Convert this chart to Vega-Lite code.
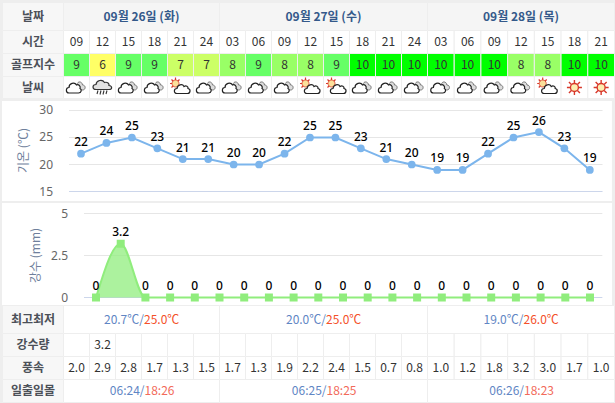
{
"$schema":"https://vega.github.io/schema/vega-lite/v6.json",
"padding":0,"bounds":"flush","spacing":0,"background":"#eeeeee",
"config":{"view":{"stroke":null},"font":"Noto Sans CJK KR","text":{"font":"Noto Sans CJK KR","baseline":"middle"}},
"datasets":{
"cols":[
{"c0":0,"c1":1,"m":0.5,"hour":"09","golf":"9","wx":"cloud","wind":"2.0","rain":""},
{"c0":1,"c1":2,"m":1.5,"hour":"12","golf":"6","wx":"rain","wind":"2.9","rain":"3.2"},
{"c0":2,"c1":3,"m":2.5,"hour":"15","golf":"9","wx":"cloud","wind":"2.8","rain":""},
{"c0":3,"c1":4,"m":3.5,"hour":"18","golf":"9","wx":"cloud","wind":"1.7","rain":""},
{"c0":4,"c1":5,"m":4.5,"hour":"21","golf":"7","wx":"suncloud","wind":"1.3","rain":""},
{"c0":5,"c1":6,"m":5.5,"hour":"24","golf":"7","wx":"cloud","wind":"1.5","rain":""},
{"c0":6,"c1":7,"m":6.5,"hour":"03","golf":"8","wx":"cloud","wind":"1.7","rain":""},
{"c0":7,"c1":8,"m":7.5,"hour":"06","golf":"9","wx":"cloud","wind":"1.3","rain":""},
{"c0":8,"c1":9,"m":8.5,"hour":"09","golf":"8","wx":"cloud","wind":"1.9","rain":""},
{"c0":9,"c1":10,"m":9.5,"hour":"12","golf":"8","wx":"suncloud","wind":"2.2","rain":""},
{"c0":10,"c1":11,"m":10.5,"hour":"15","golf":"9","wx":"suncloud","wind":"2.4","rain":""},
{"c0":11,"c1":12,"m":11.5,"hour":"18","golf":"10","wx":"cloud","wind":"1.5","rain":""},
{"c0":12,"c1":13,"m":12.5,"hour":"21","golf":"10","wx":"cloud","wind":"0.7","rain":""},
{"c0":13,"c1":14,"m":13.5,"hour":"24","golf":"10","wx":"cloud","wind":"0.8","rain":""},
{"c0":14,"c1":15,"m":14.5,"hour":"03","golf":"10","wx":"cloud","wind":"1.0","rain":""},
{"c0":15,"c1":16,"m":15.5,"hour":"06","golf":"10","wx":"cloud","wind":"1.2","rain":""},
{"c0":16,"c1":17,"m":16.5,"hour":"09","golf":"10","wx":"cloud","wind":"1.8","rain":""},
{"c0":17,"c1":18,"m":17.5,"hour":"12","golf":"8","wx":"cloud","wind":"3.2","rain":""},
{"c0":18,"c1":19,"m":18.5,"hour":"15","golf":"8","wx":"suncloud","wind":"3.0","rain":""},
{"c0":19,"c1":20,"m":19.5,"hour":"18","golf":"10","wx":"sun","wind":"1.7","rain":""},
{"c0":20,"c1":21,"m":20.5,"hour":"21","golf":"10","wx":"sun","wind":"1.0","rain":""}
],
"days":[
{"c0":0,"c1":6,"m":3,"day":"09월 26일 (화)","tmin":"20.7℃/","tmax":"25.0℃","rise":"06:24/","set":"18:26"},
{"c0":6,"c1":14,"m":10,"day":"09월 27일 (수)","tmin":"20.0℃/","tmax":"25.0℃","rise":"06:25/","set":"18:25"},
{"c0":14,"c1":21,"m":17.5,"day":"09월 28일 (목)","tmin":"19.0℃/","tmax":"26.0℃","rise":"06:26/","set":"18:23"}
],
"topLabels":[
{"label":"날짜","r0":0,"r1":1,"rm":0.5},
{"label":"시간","r0":1,"r1":2,"rm":1.5},
{"label":"골프지수","r0":2,"r1":3,"rm":2.5},
{"label":"날씨","r0":3,"r1":4,"rm":3.5}
],
"botLabels":[
{"label":"최고최저","r0":0,"r1":1,"rm":0.5},
{"label":"강수량","r0":1,"r1":2,"rm":1.5},
{"label":"풍속","r0":2,"r1":3,"rm":2.5},
{"label":"일출일몰","r0":3,"r1":4,"rm":3.5}
],
"series":[
{"i":0,"temp":22,"precip":0},{"i":1,"temp":24,"precip":3.2},{"i":2,"temp":25,"precip":0},{"i":3,"temp":23,"precip":0},
{"i":4,"temp":21,"precip":0},{"i":5,"temp":21,"precip":0},{"i":6,"temp":20,"precip":0},{"i":7,"temp":20,"precip":0},
{"i":8,"temp":22,"precip":0},{"i":9,"temp":25,"precip":0},{"i":10,"temp":25,"precip":0},{"i":11,"temp":23,"precip":0},
{"i":12,"temp":21,"precip":0},{"i":13,"temp":20,"precip":0},{"i":14,"temp":19,"precip":0},{"i":15,"temp":19,"precip":0},
{"i":16,"temp":22,"precip":0},{"i":17,"temp":25,"precip":0},{"i":18,"temp":26,"precip":0},{"i":19,"temp":23,"precip":0},{"i":20,"temp":19,"precip":0}
],
"tempGrid":[{"v":15,"kind":"base"},{"v":20,"kind":"grid"},{"v":25,"kind":"grid"},{"v":30,"kind":"grid"}],
"precipGrid":[{"v":0,"kind":"base"},{"v":2.5,"kind":"grid"},{"v":5,"kind":"grid"}]
},
"vconcat":[
{"width":615,"height":100,
"encoding":{},
"layer":[
{"data":{"values":[{"a":1}]},"mark":{"type":"rect","fill":"#c6daed"},"encoding":{
"x":{"datum":-1.05,"type":"quantitative","axis":null,"scale":{"domain":[-1.05,-1,0,14,21,21.02],"range":[0,2.5,63.5,427.5,614.5,615]}},
"x2":{"datum":21.02},
"y":{"datum":-0.1,"type":"quantitative","axis":null,"scale":{"domain":[-0.1,0,1,2,3,4,4.05],"range":[0,2.5,30.5,53.5,76.5,98.5,100]}},
"y2":{"datum":0}}},
{"data":{"name":"topLabels"},"mark":{"type":"rect","fill":"#f7f7f7","stroke":"#eeeeee"},"encoding":{
"x":{"datum":-1,"type":"quantitative","axis":null},"x2":{"datum":0},
"y":{"field":"r0","type":"quantitative","axis":null},"y2":{"field":"r1"}}},
{"data":{"name":"days"},"mark":{"type":"rect","fill":"#f5f5f5","stroke":"#eeeeee"},"encoding":{
"x":{"field":"c0","type":"quantitative","axis":null},"x2":{"field":"c1"},
"y":{"datum":0,"type":"quantitative","axis":null},"y2":{"datum":1}}},
{"data":{"name":"cols"},"mark":{"type":"rect","fill":"#ffffff","stroke":"#eeeeee"},"encoding":{
"x":{"field":"c0","type":"quantitative","axis":null},"x2":{"field":"c1"},
"y":{"datum":1,"type":"quantitative","axis":null},"y2":{"datum":2}}},
{"data":{"name":"cols"},"mark":{"type":"rect","stroke":"#eeeeee"},"encoding":{
"x":{"field":"c0","type":"quantitative","axis":null},"x2":{"field":"c1"},
"y":{"datum":2,"type":"quantitative","axis":null},"y2":{"datum":3},
"fill":{"field":"golf","type":"nominal","legend":null,"scale":{"domain":["6","7","8","9","10"],"range":["#ffff66","#ccff66","#99ff66","#66ff66","#00ff00"]}}}},
{"data":{"name":"cols"},"mark":{"type":"rect","fill":"#ffffff","stroke":"#eeeeee"},"encoding":{
"x":{"field":"c0","type":"quantitative","axis":null},"x2":{"field":"c1"},
"y":{"datum":3,"type":"quantitative","axis":null},"y2":{"datum":4}}},
{"data":{"name":"topLabels"},"mark":{"type":"text","fontSize":12,"fontWeight":"bold","fill":"#4c5058"},"encoding":{
"x":{"datum":-0.5,"type":"quantitative","axis":null},
"y":{"field":"rm","type":"quantitative","axis":null},"text":{"field":"label"}}},
{"data":{"name":"days"},"mark":{"type":"text","fontSize":12,"fontWeight":"bold","fill":"#34598a"},"encoding":{
"x":{"field":"m","type":"quantitative","axis":null},
"y":{"datum":0.5,"type":"quantitative","axis":null},"text":{"field":"day"}}},
{"data":{"name":"cols"},"mark":{"type":"text","fontSize":12,"fill":"#333333"},"encoding":{
"x":{"field":"m","type":"quantitative","axis":null},
"y":{"datum":1.5,"type":"quantitative","axis":null},"text":{"field":"hour"}}},
{"data":{"name":"cols"},"mark":{"type":"text","fontSize":12,"fill":"#333333"},"encoding":{
"x":{"field":"m","type":"quantitative","axis":null},
"y":{"datum":2.5,"type":"quantitative","axis":null},"text":{"field":"golf"}}},
{"data":{"name":"cols"},"transform":[{"filter":"datum.wx=='cloud'"}],"mark":{"type":"point","filled":false,"opacity":1,"size":400,"fill":"#dddddd","stroke":"#777777","strokeWidth":1,"shape":"M0.05,-0.3 C0.1,-0.65 0.55,-0.65 0.6,-0.25 C0.95,-0.25 0.95,0.25 0.6,0.25 L0.3,0.25 Z"},"encoding":{
"x":{"field":"m","type":"quantitative","axis":null},"y":{"datum":3.5,"type":"quantitative","axis":null}}},
{"data":{"name":"cols"},"transform":[{"filter":"datum.wx=='cloud'"}],"mark":{"type":"point","filled":false,"opacity":1,"size":400,"fill":"#ffffff","stroke":"#222222","strokeWidth":1.2,"shape":"M-0.75,0.55 C-1.1,0.55 -1.1,0 -0.75,0 C-0.75,-0.4 -0.2,-0.6 0,-0.25 C0.2,-0.35 0.45,-0.15 0.35,0.1 C0.55,0.2 0.5,0.55 0.2,0.55 Z"},"encoding":{
"x":{"field":"m","type":"quantitative","axis":null},"y":{"datum":3.5,"type":"quantitative","axis":null}}},
{"data":{"name":"cols"},"transform":[{"filter":"datum.wx=='rain'"}],"mark":{"type":"point","filled":false,"opacity":1,"size":400,"fill":"#e2e2e2","stroke":"#333333","strokeWidth":1.2,"shape":"M-0.65,0.2 C-1.05,0.2 -1.05,-0.3 -0.65,-0.3 C-0.6,-0.75 0,-0.85 0.2,-0.5 C0.5,-0.6 0.7,-0.35 0.65,-0.2 C1.0,-0.15 1.0,0.2 0.65,0.2 Z"},"encoding":{
"x":{"field":"m","type":"quantitative","axis":null},"y":{"datum":3.5,"type":"quantitative","axis":null}}},
{"data":{"name":"cols"},"transform":[{"filter":"datum.wx=='rain'"}],"mark":{"type":"point","filled":false,"opacity":1,"size":400,"stroke":"#333333","strokeWidth":1.1,"shape":"M-0.45,0.3 L-0.55,0.65 M-0.15,0.3 L-0.25,0.7 M0.15,0.3 L0.05,0.7 M0.45,0.3 L0.35,0.65"},"encoding":{
"x":{"field":"m","type":"quantitative","axis":null},"y":{"datum":3.5,"type":"quantitative","axis":null}}},
{"data":{"name":"cols"},"transform":[{"filter":"datum.wx=='suncloud'"}],"mark":{"type":"point","filled":false,"opacity":1,"size":400,"stroke":"#d8392b","strokeWidth":1.2,"shape":"M-0.5,-1 L-0.5,-0.7 M-1.05,-0.4 L-0.75,-0.4 M-0.9,-0.8 L-0.7,-0.6 M-0.1,-0.8 L-0.3,-0.6 M-0.9,0 L-0.7,-0.2"},"encoding":{
"x":{"field":"m","type":"quantitative","axis":null},"y":{"datum":3.5,"type":"quantitative","axis":null}}},
{"data":{"name":"cols"},"transform":[{"filter":"datum.wx=='suncloud'"}],"mark":{"type":"point","filled":false,"opacity":1,"size":400,"fill":"#fbe09a","stroke":"#d8392b","strokeWidth":0.8,"shape":"M-0.85,-0.4 A0.35,0.35 0 1 1 -0.15,-0.4 A0.35,0.35 0 1 1 -0.85,-0.4 Z"},"encoding":{
"x":{"field":"m","type":"quantitative","axis":null},"y":{"datum":3.5,"type":"quantitative","axis":null}}},
{"data":{"name":"cols"},"transform":[{"filter":"datum.wx=='suncloud'"}],"mark":{"type":"point","filled":false,"opacity":1,"size":400,"fill":"#ffffff","stroke":"#222222","strokeWidth":1.2,"shape":"M-0.35,0.6 C-0.7,0.6 -0.7,0.1 -0.35,0.1 C-0.3,-0.3 0.2,-0.4 0.35,-0.1 C0.55,-0.25 0.8,-0.1 0.75,0.1 C1.05,0.15 1.0,0.6 0.7,0.6 Z"},"encoding":{
"x":{"field":"m","type":"quantitative","axis":null},"y":{"datum":3.5,"type":"quantitative","axis":null}}},
{"data":{"name":"cols"},"transform":[{"filter":"datum.wx=='sun'"}],"mark":{"type":"point","filled":false,"opacity":1,"size":400,"stroke":"#d8392b","strokeWidth":1.4,"shape":"M0,-0.75 L0,-0.4 M0,0.75 L0,0.4 M-0.75,0 L-0.4,0 M0.75,0 L0.4,0 M-0.55,-0.55 L-0.3,-0.3 M0.55,-0.55 L0.3,-0.3 M-0.55,0.55 L-0.3,0.3 M0.55,0.55 L0.3,0.3"},"encoding":{
"x":{"field":"m","type":"quantitative","axis":null},"y":{"datum":3.5,"type":"quantitative","axis":null}}},
{"data":{"name":"cols"},"transform":[{"filter":"datum.wx=='sun'"}],"mark":{"type":"point","filled":false,"opacity":1,"size":400,"fill":"#fdeeb0","stroke":"#d8392b","strokeWidth":1.4,"shape":"M-0.4,0 A0.4,0.4 0 1 1 0.4,0 A0.4,0.4 0 1 1 -0.4,0 Z"},"encoding":{
"x":{"field":"m","type":"quantitative","axis":null},"y":{"datum":3.5,"type":"quantitative","axis":null}}}
]},
{"width":615,"height":102,
"data":{"name":"series"},
"layer":[
{"data":{"values":[{"a":1}]},"mark":{"type":"rect","fill":"#ffffff"},"encoding":{
"x":{"datum":-3.105,"type":"quantitative","axis":null,"scale":{"domain":[-3.184,20.99],"nice":false,"zero":false}},"x2":{"datum":20.87},
"y":{"datum":31.76,"type":"quantitative","title":"기온 (℃)","scale":{"domain":[13.056,31.944],"nice":false,"zero":false},
"axis":{"offset":-53,"zindex":1,"values":[15,20,25,30],"labels":false,"domain":false,"ticks":false,"grid":false,"titleFont":"Noto Sans CJK KR","titleFontSize":12,"titleFontWeight":"normal","titleColor":"#6f7f9c","titleX":-30,"titleY":50,"titleAngle":270,"titleAlign":"center","titleBaseline":"middle"}},
"y2":{"datum":13.24}}},
{"data":{"name":"tempGrid"},"transform":[{"filter":"datum.kind=='grid'"}],"mark":{"type":"rule","strokeWidth":1,"stroke":"#e6e6e6"},"encoding":{
"x":{"datum":-0.472,"type":"quantitative","axis":null},"x2":{"datum":20.5},
"y":{"field":"v","type":"quantitative","title":"기온 (℃)"}}},
{"data":{"name":"tempGrid"},"transform":[{"filter":"datum.kind=='base'"}],"mark":{"type":"rule","strokeWidth":1,"stroke":"#ccd6eb"},"encoding":{
"x":{"datum":-0.472,"type":"quantitative","axis":null},"x2":{"datum":20.5},
"y":{"field":"v","type":"quantitative","title":"기온 (℃)"}}},
{"data":{"name":"tempGrid"},"mark":{"type":"text","font":"Noto Sans","fontSize":12,"fill":"#666666","align":"right"},"encoding":{
"x":{"datum":-1.1006,"type":"quantitative","axis":null},
"y":{"field":"v","type":"quantitative","title":"기온 (℃)"},"text":{"field":"v"}}},
{"mark":{"type":"line","stroke":"#7cb5ec","strokeWidth":2},"encoding":{
"x":{"field":"i","type":"quantitative","axis":null},"y":{"field":"temp","type":"quantitative","title":"기온 (℃)"}}},
{"mark":{"type":"point","filled":true,"shape":"circle","size":60,"fill":"#7cb5ec","opacity":1},"encoding":{
"x":{"field":"i","type":"quantitative","axis":null},"y":{"field":"temp","type":"quantitative","title":"기온 (℃)"}}},
{"mark":{"type":"text","font":"Noto Sans","fontSize":12,"fontWeight":500,"fill":"#000000","dy":-11.5},"encoding":{
"x":{"field":"i","type":"quantitative","axis":null},"y":{"field":"temp","type":"quantitative","title":"기온 (℃)"},"text":{"field":"temp"}}}
]},
{"width":615,"height":103,
"data":{"name":"series"},
"layer":[
{"data":{"values":[{"a":1}]},"mark":{"type":"rect","fill":"#ffffff"},"encoding":{
"x":{"datum":-3.806,"type":"quantitative","axis":null,"scale":{"domain":[-3.887,21.012],"nice":false,"zero":false}},"x2":{"datum":20.89},
"y":{"datum":5.625,"type":"quantitative","title":"강수 (mm)","scale":{"domain":[-0.446,5.685],"nice":false,"zero":false},
"axis":{"offset":-68,"zindex":1,"values":[0,2.5,5],"labels":false,"domain":false,"ticks":false,"grid":false,"titleFont":"Noto Sans CJK KR","titleFontSize":12,"titleFontWeight":"normal","titleColor":"#6f7f9c","titleX":-33,"titleY":53,"titleAngle":270,"titleAlign":"center","titleBaseline":"middle"}},
"y2":{"datum":-0.446}}},
{"data":{"name":"precipGrid"},"transform":[{"filter":"datum.kind=='grid'"}],"mark":{"type":"rule","strokeWidth":1,"stroke":"#e6e6e6"},"encoding":{
"x":{"datum":-0.486,"type":"quantitative","axis":null},"x2":{"datum":20.5},
"y":{"field":"v","type":"quantitative","title":"강수 (mm)"}}},
{"data":{"name":"precipGrid"},"transform":[{"filter":"datum.kind=='base'"}],"mark":{"type":"rule","strokeWidth":1,"stroke":"#ccd6eb"},"encoding":{
"x":{"datum":-0.486,"type":"quantitative","axis":null},"x2":{"datum":20.5},
"y":{"field":"v","type":"quantitative","title":"강수 (mm)"}}},
{"data":{"name":"precipGrid"},"mark":{"type":"text","font":"Noto Sans","fontSize":12,"fill":"#666666","align":"right"},"encoding":{
"x":{"datum":-1.1336,"type":"quantitative","axis":null},
"y":{"field":"v","type":"quantitative","title":"강수 (mm)"},"text":{"field":"v"}}},
{"mark":{"type":"area","interpolate":"monotone","fill":"#90ed7d","fillOpacity":0.75},"encoding":{
"x":{"field":"i","type":"quantitative","axis":null},"y":{"field":"precip","type":"quantitative","stack":null,"title":"강수 (mm)"},"y2":{"datum":0}}},
{"mark":{"type":"line","interpolate":"monotone","stroke":"#90ed7d","strokeWidth":2},"encoding":{
"x":{"field":"i","type":"quantitative","axis":null},"y":{"field":"precip","type":"quantitative","title":"강수 (mm)"}}},
{"mark":{"type":"point","filled":true,"shape":"square","size":64,"fill":"#90ed7d","opacity":1},"encoding":{
"x":{"field":"i","type":"quantitative","axis":null},"y":{"field":"precip","type":"quantitative","title":"강수 (mm)"}}},
{"mark":{"type":"text","font":"Noto Sans","fontSize":12,"fontWeight":500,"fill":"#000000","dy":-12},"encoding":{
"x":{"field":"i","type":"quantitative","axis":null},"y":{"field":"precip","type":"quantitative","title":"강수 (mm)"},"text":{"field":"precip"}}}
]},
{"width":615,"height":98,
"layer":[
{"data":{"name":"botLabels"},"mark":{"type":"rect","fill":"#f7f7f7","stroke":"#eeeeee"},"encoding":{
"x":{"datum":-1,"type":"quantitative","axis":null,"scale":{"domain":[-1.05,-1,0,14,21,21.02],"range":[0,2.5,63.5,427.5,614.5,615]}},"x2":{"datum":0},
"y":{"field":"r0","type":"quantitative","axis":null,"scale":{"domain":[0,1,2,3,4,4.05],"range":[0.5,28.5,51.5,74.5,97.5,98]}},"y2":{"field":"r1"}}},
{"data":{"name":"days"},"mark":{"type":"rect","fill":"#ffffff","stroke":"#eeeeee"},"encoding":{
"x":{"field":"c0","type":"quantitative","axis":null},"x2":{"field":"c1"},
"y":{"datum":0,"type":"quantitative","axis":null},"y2":{"datum":1}}},
{"data":{"name":"cols"},"mark":{"type":"rect","fill":"#ffffff","stroke":"#eeeeee"},"encoding":{
"x":{"field":"c0","type":"quantitative","axis":null},"x2":{"field":"c1"},
"y":{"datum":1,"type":"quantitative","axis":null},"y2":{"datum":2}}},
{"data":{"name":"cols"},"mark":{"type":"rect","fill":"#ffffff","stroke":"#eeeeee"},"encoding":{
"x":{"field":"c0","type":"quantitative","axis":null},"x2":{"field":"c1"},
"y":{"datum":2,"type":"quantitative","axis":null},"y2":{"datum":3}}},
{"data":{"name":"days"},"mark":{"type":"rect","fill":"#ffffff","stroke":"#eeeeee"},"encoding":{
"x":{"field":"c0","type":"quantitative","axis":null},"x2":{"field":"c1"},
"y":{"datum":3,"type":"quantitative","axis":null},"y2":{"datum":4}}},
{"data":{"name":"botLabels"},"mark":{"type":"text","fontSize":12,"fontWeight":"bold","fill":"#4c5058"},"encoding":{
"x":{"datum":-0.5,"type":"quantitative","axis":null},
"y":{"field":"rm","type":"quantitative","axis":null},"text":{"field":"label"}}},
{"data":{"name":"days"},"mark":{"type":"text","fontSize":12,"fill":"#5f86c4","align":"right","dx":2.5},"encoding":{
"x":{"field":"m","type":"quantitative","axis":null},
"y":{"datum":0.5,"type":"quantitative","axis":null},"text":{"field":"tmin"}}},
{"data":{"name":"days"},"mark":{"type":"text","fontSize":12,"fill":"#f4502a","align":"left","dx":2.5},"encoding":{
"x":{"field":"m","type":"quantitative","axis":null},
"y":{"datum":0.5,"type":"quantitative","axis":null},"text":{"field":"tmax"}}},
{"data":{"name":"cols"},"mark":{"type":"text","fontSize":12,"fill":"#333333"},"encoding":{
"x":{"field":"m","type":"quantitative","axis":null},
"y":{"datum":1.5,"type":"quantitative","axis":null},"text":{"field":"rain"}}},
{"data":{"name":"cols"},"mark":{"type":"text","fontSize":12,"fill":"#333333"},"encoding":{
"x":{"field":"m","type":"quantitative","axis":null},
"y":{"datum":2.5,"type":"quantitative","axis":null},"text":{"field":"wind"}}},
{"data":{"name":"days"},"mark":{"type":"text","fontSize":12,"fill":"#5f86c4","align":"right","dx":3},"encoding":{
"x":{"field":"m","type":"quantitative","axis":null},
"y":{"datum":3.5,"type":"quantitative","axis":null},"text":{"field":"rise"}}},
{"data":{"name":"days"},"mark":{"type":"text","fontSize":12,"fill":"#f26a5a","align":"left","dx":3},"encoding":{
"x":{"field":"m","type":"quantitative","axis":null},
"y":{"datum":3.5,"type":"quantitative","axis":null},"text":{"field":"set"}}}
]}
]
}
